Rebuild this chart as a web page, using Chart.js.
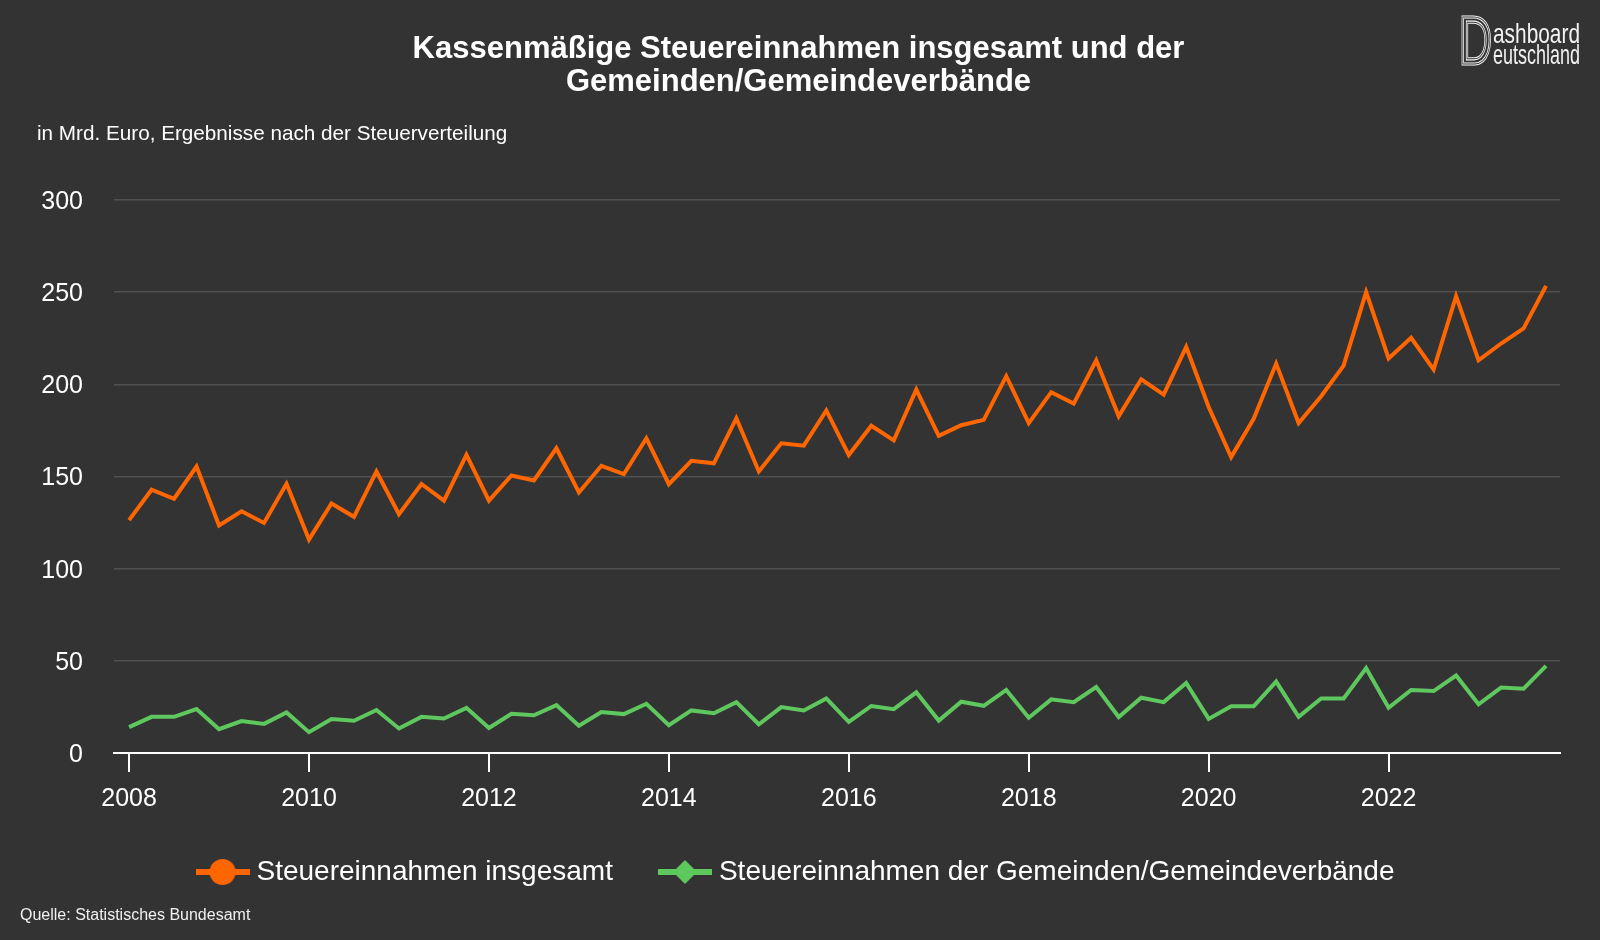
<!DOCTYPE html>
<html lang="de">
<head>
<meta charset="utf-8">
<title>Kassenmäßige Steuereinnahmen</title>
<script src="https://cdn.jsdelivr.net/npm/chart.js@4.4.1/dist/chart.umd.min.js"></script>
<style>
    html, body { margin: 0; padding: 0; background: #333333; }
    #wrap { position: relative; width: 1600px; height: 940px; overflow: hidden; }
    #chart { position: absolute; left: 0; top: 0; }
    #source {
        position: absolute; left: 20px; top: 907px;
        font: 16px/16px "Liberation Sans", Arial, sans-serif; color: #f0f0f0;
    }
    #logo { position: absolute; left: 1440px; top: 0; }
</style>
</head>
<body>
<div id="wrap">
    <canvas id="chart" width="1600" height="940"></canvas>
    <svg id="logo" width="160" height="80" font-family="'Liberation Sans Narrow', 'Liberation Sans', Arial, sans-serif">
        <text x="19" y="64" font-size="68" textLength="33" lengthAdjust="spacingAndGlyphs" fill="none" stroke="#f2f2f2" stroke-width="3.2">D</text>
        <text x="19" y="64" font-size="68" textLength="33" lengthAdjust="spacingAndGlyphs" fill="none" stroke="#333" stroke-width="1">D</text>
        <text x="53" y="43" font-size="28" textLength="87" lengthAdjust="spacingAndGlyphs" fill="#f2f2f2">ashboard</text>
        <text x="53" y="64" font-size="28" textLength="87" lengthAdjust="spacingAndGlyphs" fill="#f2f2f2">eutschland</text>
    </svg>
    <div id="source">Quelle: Statistisches Bundesamt</div>
</div>

<script>
// quarterly values, Q1 2008 .. Q4 2023, Mrd. Euro
const years = [2008, 2009, 2010, 2011, 2012, 2013, 2014, 2015, 2016, 2017, 2018, 2019, 2020, 2021, 2022, 2023];
const quarterNames = ['Q1', 'Q2', 'Q3', 'Q4'];
const tickYears = [2008, 2010, 2012, 2014, 2016, 2018, 2020, 2022];

const steuernGesamt = [
    126.3, 142.8, 137.9, 155.4,
    123.4, 131.1, 124.8, 146.0,
    115.8, 135.3, 128.1, 152.7,
    129.5, 145.9, 136.9, 161.7,
    136.9, 150.5, 147.8, 165.3,
    141.3, 155.8, 151.3, 170.7,
    145.8, 158.5, 157.1, 181.6,
    152.7, 168.0, 166.7, 185.8,
    161.6, 177.5, 169.6, 197.1,
    172.0, 177.8, 180.7, 204.4,
    178.9, 195.7, 189.5, 213.0,
    182.6, 202.7, 194.4, 220.3,
    187.7, 160.5, 181.3, 211.2,
    179.0, 193.5, 210.1, 250.0,
    214.0, 225.2, 208.0, 247.8,
    213.0, 222.1, 230.3, 253.4
];

const steuernGemeinden = [
    14.0, 19.6, 19.6, 23.8,
    12.9, 17.3, 15.8, 22.0,
    11.3, 18.4, 17.5, 23.3,
    13.3, 19.6, 18.7, 24.5,
    13.6, 21.3, 20.5, 26.0,
    14.8, 22.2, 21.1, 26.7,
    15.1, 23.1, 21.6, 27.6,
    15.6, 24.9, 23.1, 29.6,
    16.9, 25.5, 23.8, 32.9,
    17.6, 27.8, 25.6, 34.2,
    19.1, 29.1, 27.6, 35.8,
    19.5, 30.0, 27.6, 38.0,
    18.5, 25.3, 25.3, 38.7,
    19.6, 29.6, 29.6, 46.0,
    24.5, 34.2, 33.6, 42.0,
    26.4, 35.5, 34.9, 47.3
];

const seriesNames = ['Steuereinnahmen insgesamt', 'Steuereinnahmen der Gemeinden/Gemeindeverbände'];
const seriesColors = ['#ff6600', '#5ec85e'];

const quarterLabels = years.flatMap(y => quarterNames.map(q => `${q} ${y}`));

Chart.defaults.font.family = '"Liberation Sans", Arial, sans-serif';
Chart.defaults.color = '#ffffff';

/* =============================
   LEGEND ICONS (line + marker)
============================= */
function makeIcon(color, marker) {
    const c = document.createElement('canvas');
    c.width = 54;
    c.height = 26;
    const ctx = c.getContext('2d');
    ctx.fillStyle = color;
    ctx.fillRect(0, 10, 54, 6);
    ctx.beginPath();
    if (marker === 'circle') {
        ctx.arc(27, 13, 13, 0, Math.PI * 2);
    } else {
        ctx.moveTo(27, 1);
        ctx.lineTo(39, 13);
        ctx.lineTo(27, 25);
        ctx.lineTo(15, 13);
        ctx.closePath();
    }
    ctx.fill();
    return c;
}

const legendIcons = [makeIcon(seriesColors[0], 'circle'), makeIcon(seriesColors[1], 'diamond')];

function toPoints(values) {
    return values.map((v, i) => ({ x: i, y: v }));
}

new Chart(document.getElementById('chart'), {
    type: 'line',
    data: {
        datasets: [
            {
                label: seriesNames[0],
                data: toPoints(steuernGesamt),
                borderColor: seriesColors[0],
                backgroundColor: seriesColors[0],
                borderWidth: 4,
                pointRadius: 0,
                tension: 0
            },
            {
                label: seriesNames[1],
                data: toPoints(steuernGemeinden),
                borderColor: seriesColors[1],
                backgroundColor: seriesColors[1],
                borderWidth: 4,
                pointRadius: 0,
                tension: 0
            }
        ]
    },
    options: {
        responsive: false,
        animation: false,
        events: [],
        layout: { padding: { top: 10, left: 37, right: 40, bottom: 44 } },
        plugins: {
            title: {
                display: true,
                text: ['Kassenmäßige Steuereinnahmen insgesamt und der', 'Gemeinden/Gemeindeverbände'],
                color: '#ffffff',
                font: { size: 31, weight: 'bold', lineHeight: 1.08 },
                padding: { top: 22.5, bottom: 0 }
            },
            subtitle: {
                display: true,
                text: 'in Mrd. Euro, Ergebnisse nach der Steuerverteilung',
                align: 'start',
                color: '#ffffff',
                font: { size: 20.7 },
                padding: { top: 22.4, bottom: 53.2 }
            },
            legend: {
                position: 'bottom',
                labels: {
                    usePointStyle: true,
                    pointStyleWidth: 40,
                    padding: 52,
                    color: '#ffffff',
                    font: { size: 28 },
                    generateLabels: chart => Chart.defaults.plugins.legend.labels.generateLabels(chart)
                        .map((item, i) => ({ ...item, pointStyle: legendIcons[i] }))
                }
            },
            tooltip: { enabled: false }
        },
        scales: {
            x: {
                type: 'linear',
                min: -0.67,
                max: 63.62,
                afterBuildTicks: scale => {
                    scale.ticks = tickYears.map(y => ({ value: quarterLabels.indexOf(`Q1 ${y}`) }));
                },
                afterFit: scale => { scale.height = 53; },
                ticks: {
                    autoSkip: false,
                    maxRotation: 0,
                    padding: 12,
                    color: '#ffffff',
                    font: { size: 25 },
                    callback: value => quarterLabels[value].split(' ')[1]
                },
                grid: { drawOnChartArea: false, color: '#ffffff', lineWidth: 2, tickLength: 19 },
                border: { color: '#ffffff', width: 2 }
            },
            y: {
                min: 0,
                max: 300,
                afterFit: scale => { scale.width = 77; },
                ticks: {
                    stepSize: 50,
                    padding: 31,
                    labelOffset: 2,
                    color: '#ffffff',
                    font: { size: 25 }
                },
                grid: {
                    drawTicks: false,
                    lineWidth: 1.5,
                    color: c => c.tick.value === 0 ? 'rgba(0,0,0,0)' : '#505050'
                },
                border: { display: false }
            }
        }
    }
});
</script>
</body>
</html>
